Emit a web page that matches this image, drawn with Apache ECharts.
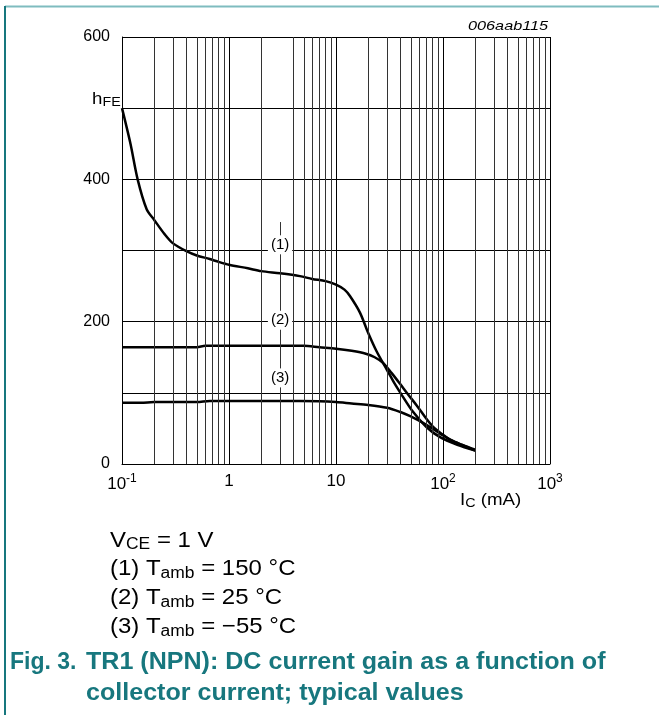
<!DOCTYPE html>
<html>
<head>
<meta charset="utf-8">
<script src="https://cdn.jsdelivr.net/npm/echarts@6.0.0/dist/echarts.min.js"></script>
<style>
  html, body { margin: 0; padding: 0; background: #fff; }
  #chart { width: 659px; height: 715px; }
</style>
</head>
<body>
<div id="chart"></div>
<script>
// curve (1) Tamb = 150 °C
var x1 = [0.1, 0.12, 0.14, 0.17, 0.2, 0.25, 0.3, 0.4, 0.5, 0.66, 0.8, 1, 1.5, 2, 3, 4.6, 6, 8, 10, 12, 13.5, 16.7, 20, 24, 30, 35, 40, 52, 70, 93, 136, 200];
var y1 = [500, 450, 400, 358, 343, 323, 310, 299, 293, 288, 284, 280, 275, 271, 268, 264, 260, 257, 252, 245, 236, 213, 184, 158, 132, 114, 100, 74, 52, 38, 27, 19];
// curve (2) Tamb = 25 °C
var x2 = [0.1, 0.3, 0.5, 0.6, 1, 2, 5, 7, 10, 14, 19, 23, 27.5, 33, 39.5, 47, 57, 68, 80, 100, 117, 150, 200];
var y2 = [164, 164, 164, 166, 166, 166, 166, 164, 162, 159, 155, 150, 142, 128, 113, 98, 82, 66, 53, 41, 34, 27, 20];
// curve (3) Tamb = -55 °C
var x3 = [0.1, 0.15, 0.2, 0.5, 0.66, 1, 3, 7, 10, 14, 20, 30, 40, 50, 58, 70, 85, 100, 125, 160, 200];
var y3 = [86, 86, 87, 87, 88.5, 88.5, 88.5, 88, 87, 85, 83, 79, 73, 67, 62, 55, 47, 40, 32, 25, 19];

// minor grid positions of the log axis (3 mA is drawn as a partial leader)
var minorX = [0.2, 0.3, 0.4, 0.5, 0.6, 0.7, 0.8, 0.9, 2, 4, 5, 6, 7, 8, 9, 20, 30, 40, 50, 60, 70, 80, 90, 200, 300, 400, 500, 600, 700, 800, 900];
var yLabels = [0, 200, 400, 600];
var xTickText = { 0.1: '10{s|-1}', 1: '1', 10: '10', 100: '10{s|2}', 1000: '10{s|3}' };
// curve tags at 3 mA
var tagPos = [[3, 308, '(1)'], [3, 202, '(2)'], [3, 121, '(3)']];
var noteLines = ['V{s|CE} = 1 V', '(1) T{s|amb} = 150 °C', '(2) T{s|amb} = 25 °C', '(3) T{s|amb} = \u221255 °C'];

function pairs(xs, ys) {
    return xs.map(function (x, i) { return [x, ys[i]]; });
}

var chart = echarts.init(document.getElementById('chart'));
var font = 'Liberation Sans, Arial, sans-serif';
var teal = '#17777e';

var notes = noteLines.map(function (t, i) {
    return {
        type: 'text', y: i * 28.7, scaleX: 1.09,
        style: {
            text: t, fill: '#000', font: '22px ' + font,
            rich: { s: { fontSize: 16, padding: [9, 0, 0, 0], fontFamily: font } }
        }
    };
});

var option = {
    backgroundColor: '#fff',
    animation: false,
    textStyle: { fontFamily: font },
    grid: { left: 122, right: 109, top: 37, bottom: 251 },
    xAxis: {
        type: 'log',
        logBase: 10,
        min: 0.1,
        max: 1000,
        axisLine: { show: true, lineStyle: { color: '#000', width: 1 } },
        axisTick: { show: false },
        splitLine: { show: true, lineStyle: { color: '#000', width: 1 } },
        axisLabel: {
            margin: 9,
            color: '#000',
            fontSize: 17,
            formatter: function (v) {
                var k = Math.round(Math.log10(v) * 10) / 10;
                return xTickText[Math.pow(10, k)] || xTickText[v] || '';
            },
            rich: {
                s: { fontSize: 12, verticalAlign: 'top', padding: [0, 0, 10, 0] }
            }
        }
    },
    yAxis: {
        type: 'value',
        min: 0,
        max: 600,
        interval: 100,
        axisLine: { show: true, lineStyle: { color: '#000', width: 1 } },
        axisTick: { show: false },
        splitLine: { show: true, lineStyle: { color: '#000', width: 1 } },
        axisLabel: {
            margin: 12,
            color: '#000',
            fontSize: 16,
            formatter: function (v) { return yLabels.indexOf(v) >= 0 ? String(v) : ''; }
        }
    },
    graphic: [
        { type: 'line', shape: { x1: 5, y1: 6.5, x2: 659, y2: 6.5 }, style: { stroke: '#7fbcbf', lineWidth: 2 } },
        { type: 'line', shape: { x1: 5, y1: 6, x2: 5, y2: 715 }, style: { stroke: teal, lineWidth: 2 } },
        { type: 'text', x: 468, y: 20, scaleX: 1.25, style: { text: '006aab115', font: 'italic 13px ' + font, fill: '#000' } },
        {
            type: 'text', x: 92, y: 89, scaleX: 1.1,
            style: {
                text: 'h{s|FE}', fill: '#000', font: '17px ' + font,
                rich: { s: { fontSize: 13, padding: [7, 0, 0, 0], fontFamily: font } }
            }
        },
        {
            type: 'text', x: 460, y: 490, scaleX: 1.1,
            style: {
                text: 'I{s|C} (mA)', fill: '#000', font: '17px ' + font,
                rich: { s: { fontSize: 13, padding: [7, 0, 0, 0], fontFamily: font } }
            }
        },
        { type: 'group', x: 110, y: 528, children: notes },
        { type: 'text', x: 10, y: 651, style: { text: 'Fig. 3.', fill: teal, font: 'bold 23px ' + font } },
        { type: 'text', x: 86, y: 651, scaleX: 1.09, style: { text: 'TR1 (NPN): DC current gain as a function of', fill: teal, font: 'bold 23px ' + font } },
        { type: 'text', x: 86, y: 682, scaleX: 1.09, style: { text: 'collector current; typical values', fill: teal, font: 'bold 23px ' + font } }
    ],
    series: [
        {
            // minor grid lines
            type: 'line',
            z: 1,
            silent: true,
            data: [[0.1, 0], [1000, 0]],
            showSymbol: false,
            lineStyle: { width: 0 },
            markLine: {
                silent: true,
                symbol: 'none',
                label: { show: false },
                lineStyle: { color: '#333', width: 1, type: 'solid' },
                data: minorX.map(function (v) { return { xAxis: v }; }).concat([
                    [{ coord: [3, 340] }, { coord: [3, 0] }]
                ])
            }
        },
        {
            // curve tags
            type: 'line',
            z: 2,
            silent: true,
            data: [[0.1, 0], [1000, 0]],
            showSymbol: false,
            lineStyle: { width: 0 },
            markPoint: {
                symbol: 'circle',
                symbolSize: 0,
                label: {
                    show: true,
                    position: 'inside',
                    color: '#000',
                    fontSize: 15,
                    fontFamily: font,
                    backgroundColor: '#fff',
                    padding: [2, 3],
                    formatter: function (p) { return p.name; }
                },
                data: tagPos.map(function (t) { return { name: t[2], coord: [t[0], t[1]] }; })
            }
        },
        { name: '(1)', type: 'line', z: 3, data: pairs(x1, y1), smooth: 0.3, showSymbol: false, lineStyle: { color: '#000', width: 2.5 } },
        { name: '(2)', type: 'line', z: 3, data: pairs(x2, y2), smooth: 0.3, showSymbol: false, lineStyle: { color: '#000', width: 2.5 } },
        { name: '(3)', type: 'line', z: 3, data: pairs(x3, y3), smooth: 0.3, showSymbol: false, lineStyle: { color: '#000', width: 2.5 } }
    ]
};

chart.setOption(option);
</script>
</body>
</html>
